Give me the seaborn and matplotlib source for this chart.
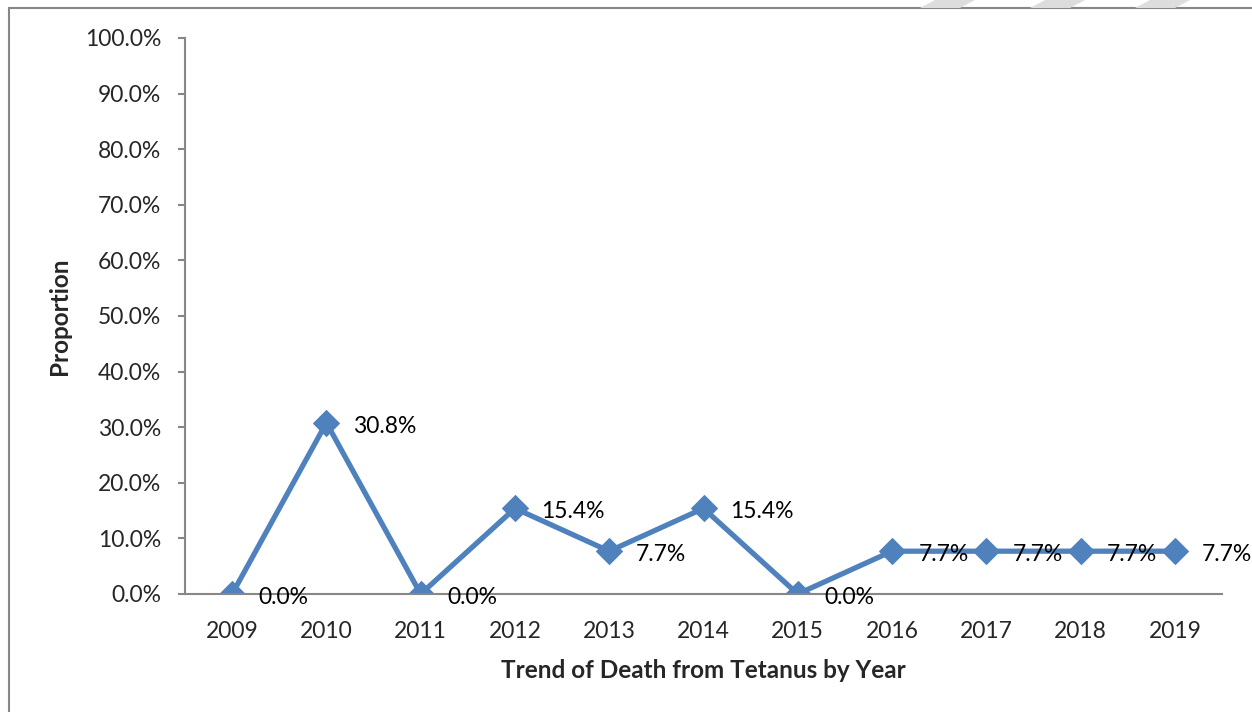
import matplotlib.pyplot as plt
import seaborn as sns
import pandas as pd
from matplotlib.patches import Rectangle, Polygon
from matplotlib.ticker import PercentFormatter

# data of the chart
years = ['2009', '2010', '2011', '2012', '2013', '2014', '2015', '2016', '2017', '2018', '2019']
proportion = [0.0, 30.8, 0.0, 15.4, 7.7, 15.4, 0.0, 7.7, 7.7, 7.7, 7.7]
labels = ['0.0%', '30.8%', '0.0%', '15.4%', '7.7%', '15.4%', '0.0%', '7.7%', '7.7%', '7.7%', '7.7%']

df = pd.DataFrame({'Year': years, 'Proportion': proportion})

sns.set_style('white')
plt.rcParams['font.family'] = ['Lato', 'DejaVu Sans']

blue = '#4F81BD'
grey = '#878787'

fig = plt.figure(figsize=(12.52, 7.12), dpi=100)
ax = fig.add_axes([185 / 1252, 1 - 594 / 712, 1037 / 1252, (594 - 38) / 712])

sns.lineplot(x='Year', y='Proportion', data=df, ax=ax, color=blue, linewidth=3.8,
             marker='D', markersize=13, markeredgecolor=blue, sort=False)

for i, (v, t) in enumerate(zip(proportion, labels)):
    ax.annotate(t, (i, v), xytext=(19, -2.5), textcoords='offset points',
                ha='left', va='center', fontsize=16.5, color='black')

ax.set_xlim(-0.5, len(years) - 0.5)
ax.set_ylim(0, 100)
ax.set_yticks(range(0, 101, 10))
ax.yaxis.set_major_formatter(PercentFormatter(decimals=1))

for s in ['top', 'right']:
    ax.spines[s].set_visible(False)
for s in ['left', 'bottom']:
    ax.spines[s].set_color(grey)
    ax.spines[s].set_linewidth(1.5)

ax.tick_params(axis='y', which='both', left=True, length=5, width=1.5, color=grey,
               labelsize=16.5, pad=12)
ax.tick_params(axis='x', which='both', bottom=False, labelsize=16.5, pad=16)

ax.set_xlabel('Trend of Death from Tetanus by Year', fontsize=17.5, fontweight='bold', labelpad=12)
ax.set_ylabel('Proportion', fontsize=17.5, fontweight='bold', labelpad=10)

# frame of the page around the chart
fig.patches.append(Rectangle((9 / 1252, -0.2), 1.5, 1.2 - 8 / 712, transform=fig.transFigure,
                             fill=False, edgecolor=grey, linewidth=1.5))

# faint watermark strokes at the top
for x0 in [935, 1045, 1150]:
    fig.patches.append(Polygon([(x0 / 1252, 1), ((x0 + 40) / 1252, 1),
                                ((x0 + 25) / 1252, 1 - 8 / 712), ((x0 - 15) / 1252, 1 - 8 / 712)],
                               closed=True, transform=fig.transFigure,
                               facecolor='#DDDDDD', edgecolor='none'))

fig.savefig('out.png', dpi=100)
